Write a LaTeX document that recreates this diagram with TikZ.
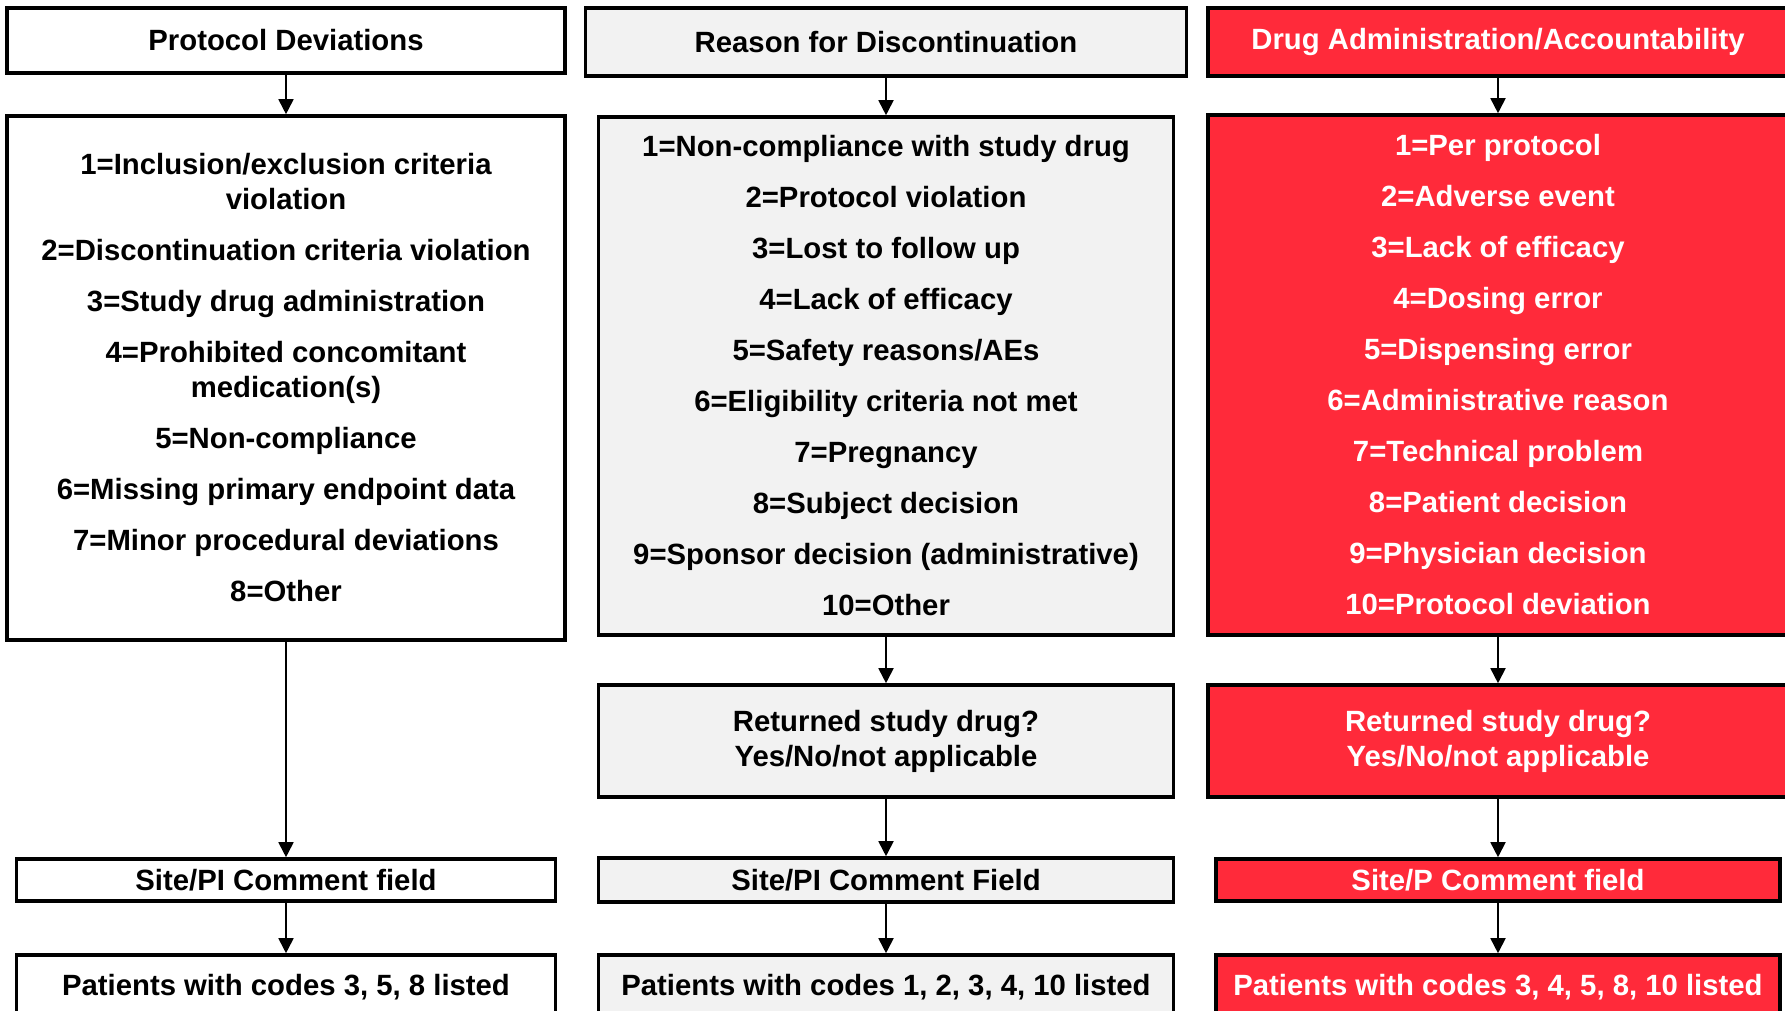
\documentclass[tikz,border=0pt]{standalone}
\usepackage{fontspec}
\setmainfont{Liberation Sans}
\usetikzlibrary{arrows.meta}

\definecolor{boxred}{RGB}{255,42,58}
\definecolor{boxgrey}{RGB}{242,242,242}

\begin{document}
\begin{tikzpicture}[x=1pt, y=-1pt,
  box/.style={draw, line width=3.6pt, inner sep=0pt, align=center,
    font=\fontsize{29.3}{35}\selectfont\bfseries},
  whitebox/.style={box, fill=white},
  greybox/.style={box, fill=boxgrey},
  redbox/.style={box, fill=boxred, text=white},
  link/.style={line width=1.8pt, -{Triangle[length=15pt, width=15pt]}}]
  \clip (0,0) rectangle (1785,1011);
  \fill[white] (0,0) rectangle (1785,1011);

  % protocol deviations
  \node[whitebox, minimum width=558, minimum height=65] (head1) at (286,40.5) {Protocol Deviations};
  \node[whitebox, minimum width=558, minimum height=524] (list1) at (286,378)
    {1=Inclusion/exclusion criteria\\violation\\[16pt]
     2=Discontinuation criteria violation\\[16pt]
     3=Study drug administration\\[16pt]
     4=Prohibited concomitant\\medication(s)\\[16pt]
     5=Non-compliance\\[16pt]
     6=Missing primary endpoint data\\[16pt]
     7=Minor procedural deviations\\[16pt]
     8=Other};
  \node[whitebox, minimum width=539, minimum height=42] (site1) at (286,880) {Site/PI Comment field};
  \node[whitebox, minimum width=539, minimum height=64] (pat1) at (286,987) {Patients with codes 3, 5, 8 listed};

  % reason for discontinuation
  \node[greybox, minimum width=601, minimum height=68] (head2) at (886,42) {Reason for Discontinuation};
  \node[greybox, minimum width=575, minimum height=518] (list2) at (886,376)
    {1=Non-compliance with study drug\\[16pt]
     2=Protocol violation\\[16pt]
     3=Lost to follow up\\[16pt]
     4=Lack of efficacy\\[16pt]
     5=Safety reasons/AEs\\[16pt]
     6=Eligibility criteria not met\\[16pt]
     7=Pregnancy\\[16pt]
     8=Subject decision\\[16pt]
     9=Sponsor decision (administrative)\\[16pt]
     10=Other};
  \node[greybox, minimum width=575, minimum height=112] (ret2) at (886,741) {Returned study drug?\\Yes/No/not applicable};
  \node[greybox, minimum width=575, minimum height=44] (site2) at (886,880) {Site/PI Comment Field};
  \node[greybox, minimum width=575, minimum height=64] (pat2) at (886,987) {Patients with codes 1, 2, 3, 4, 10 listed};

  % drug administration
  \node[redbox, minimum width=580, minimum height=68] (head3) at (1498,42) {Drug Administration/Accountability};
  \node[redbox, minimum width=580, minimum height=520] (list3) at (1498,375)
    {1=Per protocol\\[16pt]
     2=Adverse event\\[16pt]
     3=Lack of efficacy\\[16pt]
     4=Dosing error\\[16pt]
     5=Dispensing error\\[16pt]
     6=Administrative reason\\[16pt]
     7=Technical problem\\[16pt]
     8=Patient decision\\[16pt]
     9=Physician decision\\[16pt]
     10=Protocol deviation};
  \node[redbox, minimum width=580, minimum height=112] (ret3) at (1498,741) {Returned study drug?\\Yes/No/not applicable};
  \node[redbox, minimum width=564, minimum height=42] (site3) at (1498,880) {Site/P Comment field};
  \node[redbox, minimum width=564, minimum height=64] (pat3) at (1498,987) {Patients with codes 3, 4, 5, 8, 10 listed};

  \foreach \from/\to in {head1/list1, list1/site1, site1/pat1,
      head2/list2, list2/ret2, ret2/site2, site2/pat2,
      head3/list3, list3/ret3, ret3/site3, site3/pat3}
    \draw[link] (\from) -- (\to);
\end{tikzpicture}
\end{document}
